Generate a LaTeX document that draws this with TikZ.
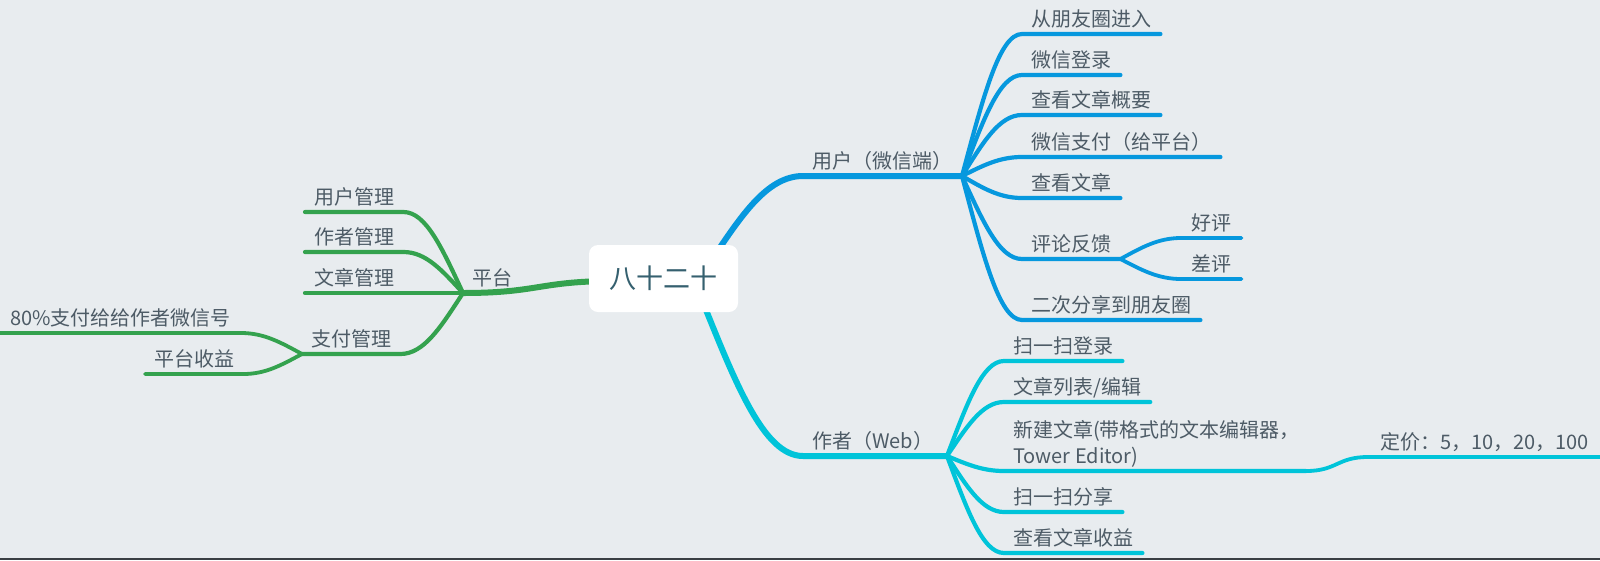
\documentclass[tikz,border=0pt]{standalone}
\usepackage{fontspec}
\setmainfont{Noto Sans CJK SC}
\usetikzlibrary{calc}
\definecolor{bg}{HTML}{E8ECEF}
\definecolor{txt}{HTML}{4D5B66}
\definecolor{roottxt}{HTML}{35606F}
\definecolor{gr}{HTML}{34A24E}
\definecolor{bl}{HTML}{0698DE}
\definecolor{cy}{HTML}{00C4D9}
\definecolor{strip}{HTML}{3A3F44}
\tikzset{
  mm/.style={to path={let \p1=(\tikztostart), \p2=(\tikztotarget) in
     .. controls ({\x1+0.35*(\x2-\x1)},{\y1+0.55*(\y2-\y1)}) and ({\x1+0.62*(\x2-\x1)},{\y2}) .. (\tikztotarget)}},
  ss/.style={to path={let \p1=(\tikztostart), \p2=(\tikztotarget) in
     .. controls ({0.5*\x1+0.5*\x2},{\y1}) and ({0.5*\x1+0.5*\x2},{\y2}) .. (\tikztotarget)}},
  lbl/.style={font=\fontsize{20}{26}\selectfont, text=txt, inner xsep=9pt, inner ysep=3pt,
     text height=15pt, text depth=4pt, anchor=south west},
  lvone/.style={line width=6pt, line cap=round, line join=round},
  lvtwo/.style={line width=4.2pt, line cap=round, line join=round},
  lvthree/.style={line width=3.8pt, line cap=round, line join=round},
  rootbox/.style={fill=white, rounded corners=9pt, minimum width=149pt, minimum height=67pt,
     inner sep=0pt, text=roottxt, font=\fontsize{27}{30}\selectfont},
}
\begin{document}
\begin{tikzpicture}[x=1pt,y=-1pt]
\fill[bg] (0,0) rectangle (1600,560);
\useasboundingbox (0,0) rectangle (1600,560);
\fill[strip] (0,558) rectangle (1600,560);

% ---------- coordinates ----------
\coordinate (P) at (463,293);
\coordinate (rg) at (615,281);
\coordinate (U) at (962,176);
\coordinate (rb) at (705,270);
\coordinate (A) at (947,456);
\coordinate (rc) at (698,290);
\coordinate (nE) at (1306,471);

% ---------- labels ----------
% platform (green)
\node[lbl] (gP) at (P) {平台};
\node[lbl] (g1) at (305,212) {用户管理};
\node[lbl] (g2) at (305,252) {作者管理};
\node[lbl] (g3) at (305,293) {文章管理};
\node[lbl] (g4) at (302,354) {支付管理};
\node[lbl, inner xsep=10pt] (g41) at (0,333) {80\%支付给给作者微信号};
\node[lbl] (g42) at (145,374) {平台收益};

% user (blue)
\node[lbl] (bU) at (803,176) {用户（微信端）};
\node[lbl] (b1) at (1022,34) {从朋友圈进入};
\node[lbl] (b2) at (1022,75) {微信登录};
\node[lbl] (b3) at (1022,115) {查看文章概要};
\node[lbl] (b4) at (1022,157) {微信支付（给平台）};
\node[lbl] (b5) at (1022,198) {查看文章};
\node[lbl] (b6) at (1022,259) {评论反馈};
\node[lbl] (b7) at (1022,320) {二次分享到朋友圈};
\node[lbl, inner xsep=10pt] (b61) at (1181,238) {好评};
\node[lbl, inner xsep=10pt] (b62) at (1181,279) {差评};

% author (cyan)
\node[lbl] (cA) at (803,456) {作者（Web）};
\node[lbl] (c1) at (1004,361) {扫一扫登录};
\node[lbl] (c2) at (1004,402) {文章列表/编辑};
\node[font=\fontsize{20}{26}\selectfont, text=txt, inner xsep=9pt, inner ysep=3pt,
      anchor=south west, align=left] (c3) at (1004,471) {新建文章(带格式的文本编辑器，\\Tower Editor)};
\node[lbl, inner xsep=12pt] (c31) at (1368,457) {定价：5，10，20，100};
\node[lbl] (c4) at (1004,512) {扫一扫分享};
\node[lbl] (c5) at (1004,553) {查看文章收益};

% ---------- connectors ----------
\begin{scope}[draw=gr]
\draw[lvone] (P) to[ss] (rg);
\draw[lvtwo] (P) to[mm] (g1.south east) -- (g1.south west);
\draw[lvtwo] (P) to[mm] (g2.south east) -- (g2.south west);
\draw[lvtwo] (P) -- (g3.south east) -- (g3.south west);
\draw[lvtwo] (P) to[mm] (g4.south east) -- (g4.south west);
\draw[lvthree] (g4.south west) to[mm] (g41.south east) -- (g41.south west);
\draw[lvthree] (g4.south west) to[mm] (g42.south east) -- (g42.south west);
\end{scope}

\begin{scope}[draw=bl]
\draw[lvone] (rb) to[mm] (bU.south west) -- (U);
\foreach \kid in {b1,b2,b3,b4,b5,b6,b7}
  \draw[lvtwo] (U) to[mm] (\kid.south west) -- (\kid.south east);
\draw[lvthree] (b6.south east) to[mm] (b61.south west) -- (b61.south east);
\draw[lvthree] (b6.south east) to[mm] (b62.south west) -- (b62.south east);
\end{scope}

\begin{scope}[draw=cy]
\draw[lvone] (rc) to[mm] (cA.south west) -- (A);
\foreach \kid in {c1,c2,c4,c5}
  \draw[lvtwo] (A) to[mm] (\kid.south west) -- (\kid.south east);
\draw[lvtwo] (A) to[mm] (c3.south west) -- (nE);
\draw[lvthree] (nE) to[ss] (c31.south west) -- (c31.south east);
\end{scope}

% ---------- root ----------
\node[rootbox] (root) at (663.5,278.5) {八十二十};
\end{tikzpicture}
\end{document}
